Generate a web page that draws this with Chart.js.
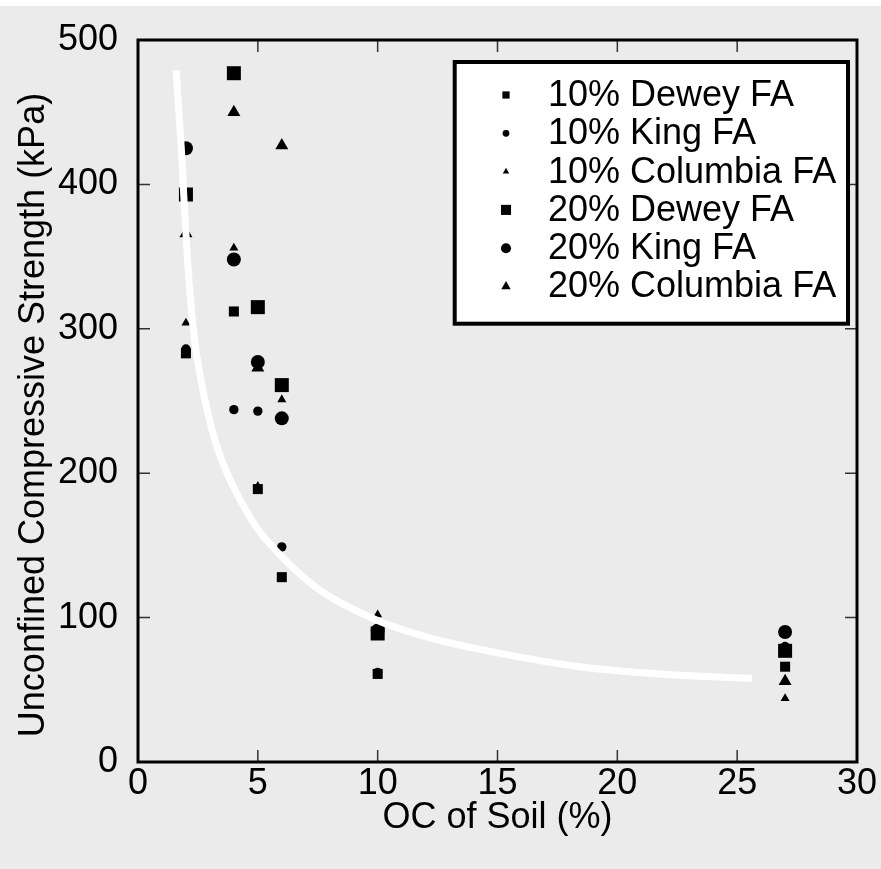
<!DOCTYPE html>
<html>
<head>
<meta charset="utf-8">
<script src="https://cdn.jsdelivr.net/npm/chart.js@4/dist/chart.umd.min.js"></script>
<style>
  html, body { margin: 0; padding: 0; background: #ffffff; }
  #wrap { position: absolute; left: 0; top: 6px; width: 881px; height: 863px; background: #ebebeb; }
  canvas { display: block; }
</style>
</head>
<body>
<div id="wrap"><canvas id="chart" width="881" height="863"></canvas></div>
<script>
// Organic content of the soil (%), shared by every series
const ocPercent = [2, 4, 5, 6, 10, 27];

// Unconfined compressive strength (kPa)
const dewey10    = [283, 312, 189, 128, 61, 66];
const king10     = [286, 244, 243, 149, 62, 80];
const columbia10 = [304, 356, 191, 251, 102, 44];
const dewey20    = [393, 477, 315, 261, 89, 77];
const king20     = [425, 348, 277, 238, 91, 90];
const columbia20 = [366, 450, 273, 427, 87, 56];

// Trend curve through the data
const trendOC  = [1.59, 1.81, 1.92, 2.04, 2.19, 2.42, 2.79, 3.34, 4.28, 5.01, 6.01, 7.59, 10.0, 12.18, 14.27, 18.44, 22.61, 25.62];
const trendUCS = [479, 424, 389, 355, 320, 285, 251, 216, 181, 161, 142, 119, 98, 86, 78, 66, 60, 58];

const xTicks = [0, 5, 10, 15, 20, 25, 30];
const yTicks = [0, 100, 200, 300, 400, 500];

const seriesNames = ['10% Dewey FA', '10% King FA', '10% Columbia FA', '20% Dewey FA', '20% King FA', '20% Columbia FA'];
const seriesValues = [dewey10, king10, columbia10, dewey20, king20, columbia20];
const seriesStyles = ['rect', 'circle', 'triangle', 'rect', 'circle', 'triangle'];
const seriesRadius = [7.1, 4.7, 5.2, 9.9, 7.0, 7.5];
const seriesOrder  = [1, 2, 3, 1, 2, 3];

const FONT = "'Liberation Sans', Arial, Helvetica, sans-serif";
const yTitle = 'Unconfined Compressive Strength (kPa)';

const toPoints = (xs, ys) => xs.map((x, i) => ({ x: x, y: ys[i] }));

const datasets = [{
  label: 'trend',
  type: 'line',
  data: toPoints(trendOC, trendUCS),
  borderColor: '#ffffff',
  borderWidth: 7,
  pointRadius: 0,
  fill: false,
  cubicInterpolationMode: 'monotone',
  order: 0
}];
seriesNames.forEach((name, i) => {
  datasets.push({
    label: name,
    data: toPoints(ocPercent, seriesValues[i]),
    pointStyle: seriesStyles[i],
    pointRadius: seriesRadius[i],
    backgroundColor: '#000000',
    borderColor: '#000000',
    borderWidth: 0,
    order: seriesOrder[i]
  });
});

function drawMarker(ctx, style, x, y, r) {
  ctx.beginPath();
  if (style === 'rect') {
    const s = Math.SQRT1_2 * r;
    ctx.rect(x - s, y - s, 2 * s, 2 * s);
  } else if (style === 'circle') {
    ctx.arc(x, y, r, 0, Math.PI * 2);
  } else {
    ctx.moveTo(x, y - r);
    ctx.lineTo(x + 0.866 * r, y + 0.5 * r);
    ctx.lineTo(x - 0.866 * r, y + 0.5 * r);
    ctx.closePath();
  }
  ctx.fill();
}

// Frame, inward tick marks, y title and the boxed legend
const framePlugin = {
  id: 'frame',
  afterDraw(chart) {
    const { ctx, chartArea: a, scales: { x, y } } = chart;
    ctx.save();
    ctx.strokeStyle = '#333333';
    ctx.lineWidth = 1.5;
    const tl = 12;
    ctx.beginPath();
    xTicks.slice(1, -1).forEach(v => {
      const px = x.getPixelForValue(v);
      ctx.moveTo(px, a.bottom); ctx.lineTo(px, a.bottom - tl);
      ctx.moveTo(px, a.top); ctx.lineTo(px, a.top + tl);
    });
    yTicks.slice(1, -1).forEach(v => {
      const py = y.getPixelForValue(v);
      ctx.moveTo(a.left, py); ctx.lineTo(a.left + tl, py);
      ctx.moveTo(a.right, py); ctx.lineTo(a.right - tl, py);
    });
    ctx.stroke();

    ctx.strokeStyle = '#000000';
    ctx.lineWidth = 3;
    ctx.strokeRect(a.left, a.top, a.right - a.left, a.bottom - a.top);

    // y axis title
    ctx.fillStyle = '#000000';
    ctx.font = '36px ' + FONT;
    ctx.textAlign = 'center';
    ctx.textBaseline = 'middle';
    ctx.translate(34, (a.top + a.bottom) / 2 + 14);
    ctx.rotate(-Math.PI / 2);
    ctx.fillText(yTitle, 0, 0);
    ctx.setTransform(1, 0, 0, 1, 0, 0);

    // legend box
    const bx = 454.7, by = 56, bw = 393.3, bh = 261.7;
    ctx.fillStyle = '#ffffff';
    ctx.fillRect(bx, by, bw, bh);
    ctx.lineWidth = 4;
    ctx.strokeRect(bx, by, bw, bh);

    ctx.fillStyle = '#000000';
    ctx.font = '36px ' + FONT;
    ctx.textBaseline = 'middle';
    ctx.textAlign = 'left';
    seriesNames.forEach((name, i) => {
      const rowY = 89 + 38.3 * i;
      drawMarker(ctx, seriesStyles[i], 506, rowY, seriesRadius[i] * 0.72);
      ctx.fillText(name, 548, rowY + 1);
    });
    ctx.restore();
  }
};

new Chart(document.getElementById('chart'), {
  type: 'scatter',
  data: { datasets: datasets },
  options: {
    responsive: false,
    animation: false,
    devicePixelRatio: 1,
    layout: { padding: { top: 34, right: 24, left: 0, bottom: 0 } },
    plugins: { legend: { display: false }, tooltip: { enabled: false } },
    scales: {
      x: {
        type: 'linear',
        min: 0, max: 30,
        afterBuildTicks: s => { s.ticks = xTicks.map(v => ({ value: v })); },
        afterFit: s => { s.height = 107; s.paddingLeft = 0; s.paddingRight = 0; },
        grid: { display: false, drawTicks: false },
        border: { display: false },
        ticks: { color: '#000000', padding: 0, font: { family: FONT, size: 36 } },
        title: { display: true, text: 'OC of Soil (%)', color: '#000000', padding: { top: 0, bottom: 29 }, font: { family: FONT, size: 36 } }
      },
      y: {
        type: 'linear',
        min: 0, max: 500,
        afterBuildTicks: s => { s.ticks = yTicks.map(v => ({ value: v })); },
        afterFit: s => { s.width = 138; s.paddingTop = 0; s.paddingBottom = 0; },
        grid: { display: false, drawTicks: false },
        border: { display: false },
        ticks: { color: '#000000', padding: 20, font: { family: FONT, size: 36 } },
        title: { display: false }
      }
    }
  },
  plugins: [framePlugin]
});
</script>
</body>
</html>
